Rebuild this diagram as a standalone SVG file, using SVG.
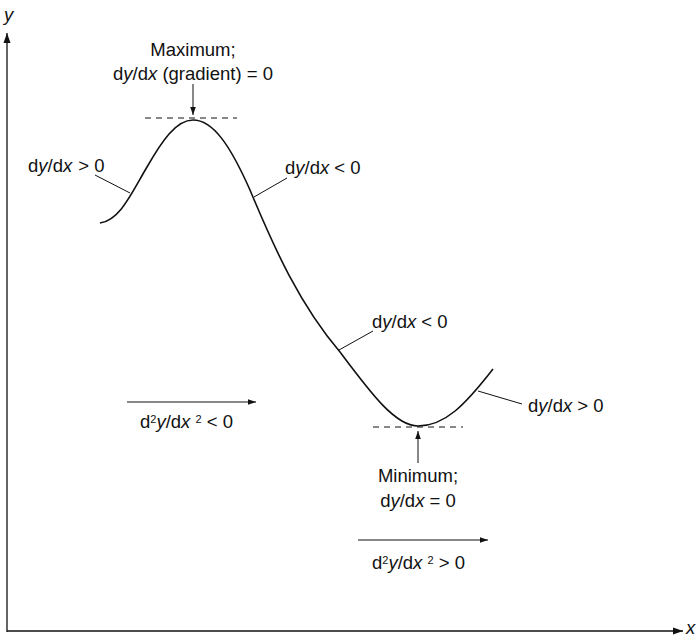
<svg xmlns="http://www.w3.org/2000/svg" width="700" height="638" viewBox="0 0 700 638">
<style>
text{font-family:"Liberation Sans",Arial,sans-serif;font-size:18.5px;fill:#111}
.i{font-style:italic}
.ax{stroke:#111;stroke-width:1.3;fill:none}
.crv{stroke:#111;stroke-width:1.6;fill:none}
.ld{stroke:#111;stroke-width:1;fill:none}
.dash{stroke:#111;stroke-width:1;stroke-dasharray:6,5;fill:none}
.sup{font-size:11px}
</style>
<defs>
<marker id="ah" viewBox="0 0 10 10" refX="10" refY="5" markerWidth="10" markerHeight="10" markerUnits="userSpaceOnUse" orient="auto">
<path d="M0,1.5 L10,5 L0,8.5 Z" fill="#111"/>
</marker>
<marker id="ahs" viewBox="0 0 10 10" refX="10" refY="5" markerWidth="8" markerHeight="8" markerUnits="userSpaceOnUse" orient="auto">
<path d="M0,1.5 L10,5 L0,8.5 Z" fill="#111"/>
</marker>
</defs>
<g id="axes">
<line class="ax" x1="7" y1="632" x2="7" y2="33" marker-end="url(#ah)"/>
<line class="ax" x1="7" y1="631" x2="683" y2="631" marker-end="url(#ah)"/>
<text x="686" y="634" class="i">x</text>
<text x="4" y="21" class="i">y</text>
</g>
<g id="curve">
<path class="crv" d="M100,223 C120,220 131,194 147,167 C162,141 176,120 193,120 C213,120 230,145 250,190 C275,250 300,305 340,352 C370,392 395,426 418,426 C445,426 465,405 493,369"/>
<line class="dash" x1="145" y1="118" x2="237" y2="118"/>
<line class="dash" x1="373" y1="427" x2="463" y2="427"/>
</g>
<g id="maximum">
<text x="193" y="56" text-anchor="middle">Maximum;</text>
<text x="193" y="80" text-anchor="middle">d<tspan class="i">y</tspan>/d<tspan class="i">x</tspan> (gradient) = 0</text>
<line class="ld" x1="193" y1="84" x2="193" y2="115" marker-end="url(#ahs)"/>
</g>
<g id="minimum">
<text x="418" y="482" text-anchor="middle">Minimum;</text>
<text x="418" y="507" text-anchor="middle">d<tspan class="i">y</tspan>/d<tspan class="i">x</tspan> = 0</text>
<line class="ld" x1="418" y1="463" x2="418" y2="431" marker-end="url(#ahs)"/>
</g>
<g id="label-left-up">
<text x="28" y="172">d<tspan class="i">y</tspan>/d<tspan class="i">x</tspan><tspan dx="6">&gt; 0</tspan></text>
<line class="ld" x1="95" y1="175" x2="130" y2="193"/>
</g>
<g id="label-down-1">
<text x="285" y="174">d<tspan class="i">y</tspan>/d<tspan class="i">x</tspan> &lt; 0</text>
<line class="ld" x1="287" y1="178" x2="254" y2="197"/>
</g>
<g id="label-down-2">
<text x="372" y="328">d<tspan class="i">y</tspan>/d<tspan class="i">x</tspan> &lt; 0</text>
<line class="ld" x1="373" y1="331" x2="339" y2="350"/>
</g>
<g id="label-right-up">
<text x="528" y="412">d<tspan class="i">y</tspan>/d<tspan class="i">x</tspan> &gt; 0</text>
<line class="ld" x1="522" y1="404" x2="478" y2="391"/>
</g>
<g id="second-derivative-neg">
<line class="ld" x1="127" y1="402" x2="256" y2="402" marker-end="url(#ahs)"/>
<text x="140" y="428">d<tspan class="sup" dy="-5">2</tspan><tspan class="i" dy="5">y</tspan>/d<tspan class="i">x</tspan> <tspan class="sup" dy="-5">2</tspan><tspan dy="5"> &lt; 0</tspan></text>
</g>
<g id="second-derivative-pos">
<line class="ld" x1="358" y1="540" x2="488" y2="540" marker-end="url(#ahs)"/>
<text x="372" y="569">d<tspan class="sup" dy="-5">2</tspan><tspan class="i" dy="5">y</tspan>/d<tspan class="i">x</tspan> <tspan class="sup" dy="-5">2</tspan><tspan dy="5"> &gt; 0</tspan></text>
</g>
</svg>
